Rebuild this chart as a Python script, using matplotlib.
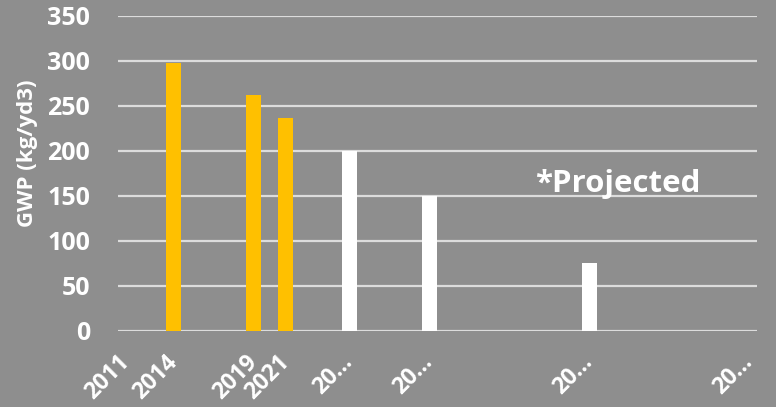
import matplotlib.pyplot as plt
import matplotlib.transforms as mtransforms

# GWP of concrete mix per year (kg/yd3); later years are projections
years = [2011, 2014, 2019, 2021, 2025, 2030, 2040, 2050]
gwp = [0, 298, 262, 237, 200, 150, 75, 0]
projected = [False, False, False, False, True, True, True, True]
tick_labels = ['2011', '2014', '2019', '2021', '20\u2026', '20\u2026', '20\u2026', '20\u2026']
y_ticks = [0, 50, 100, 150, 200, 250, 300, 350]

bg = '#8e8e8e'
gold = '#FFC000'
plt.rcParams['font.family'] = ['Open Sans', 'DejaVu Sans']
plt.rcParams['font.weight'] = 'bold'

fig = plt.figure(figsize=(7.76, 4.07), dpi=100, facecolor=bg)
ax = fig.add_axes([0.152, 0.187, 0.8235, 0.774])
ax.set_facecolor(bg)

colors = ['white' if p else gold for p in projected]
ax.bar(years, gwp, width=0.95, color=colors, zorder=3)

ax.set_xlim(2010.5, 2050.5)
ax.set_ylim(0, 350)
ax.set_yticks(y_ticks)
ax.yaxis.grid(True, color='#dcdcdc', linewidth=1.6, zorder=1)
ax.set_xticks(years)
ax.set_xticklabels(tick_labels, rotation=45, ha='right', va='center',
                   rotation_mode='anchor', fontsize=16.5, color='white', fontweight='bold')
# nudge the rotated labels right; truncated ones sit further up-right
for lab in ax.get_xticklabels():
    if lab.get_text().endswith('\u2026'):
        dx, dy = 13, 6
    else:
        dx, dy = 4, 2
    shift = mtransforms.ScaledTranslation(dx / 100, dy / 100, fig.dpi_scale_trans)
    lab.set_transform(lab.get_transform() + shift)
ax.tick_params(axis='x', length=0, pad=20)
ax.tick_params(axis='y', length=0, pad=20, labelsize=18, labelcolor='white')
for s in ax.spines.values():
    s.set_visible(False)

fig.text(0.035, 1 - 153 / 407, 'GWP (kg/yd3)', rotation=90, ha='center', va='center',
         fontsize=16, color='white', fontweight='bold')
ax.text(2036.6, 154, '*Projected', ha='left', va='baseline', fontsize=22.5,
        color='white', fontweight='bold')

fig.savefig('out.png', dpi=100, facecolor=bg)
